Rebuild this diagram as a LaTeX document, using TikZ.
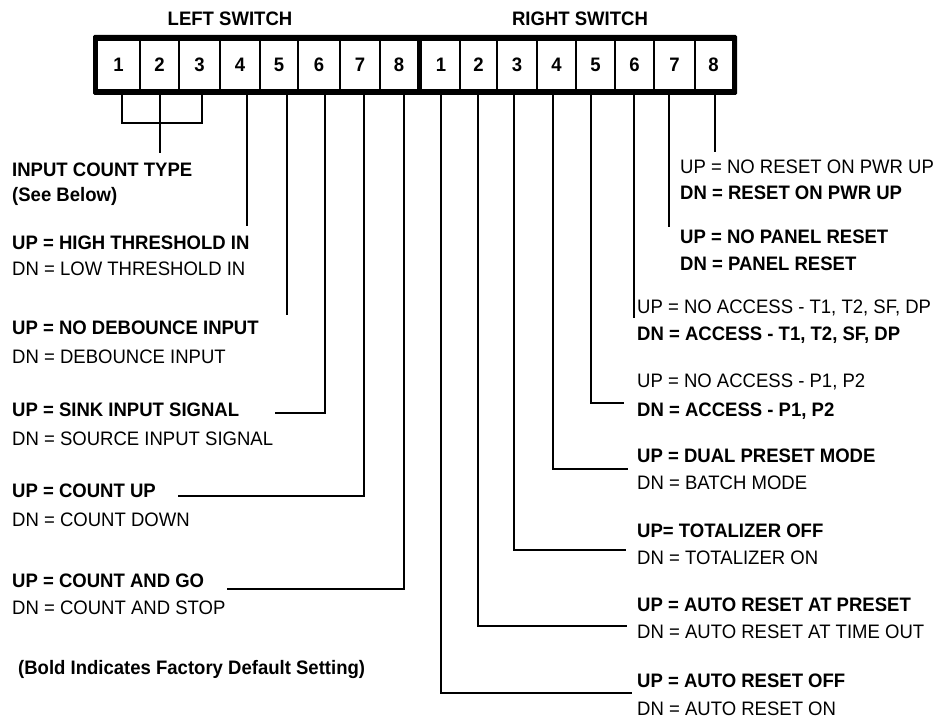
\documentclass[tikz,border=0pt]{standalone}
\usepackage{fontspec}
\setmainfont{Liberation Sans}[FakeStretch=0.95]
\newcommand\lblsize{\fontsize{19.5}{23}\selectfont}
\tikzset{
  rg/.style={anchor=base west, inner sep=0pt, font=\lblsize},
  bd/.style={anchor=base west, inner sep=0pt, font=\lblsize\bfseries},
  hdr/.style={anchor=base, inner sep=0pt, font=\lblsize\bfseries},
  num/.style={anchor=center, inner sep=0pt, font=\lblsize\bfseries},
  wire/.style={line width=1.4pt, line join=miter},
  divider/.style={line width=1.3pt}
}
\begin{document}
\begin{tikzpicture}[x=1pt,y=-1pt]
\useasboundingbox (0,0) rectangle (940,719);
\fill[white] (0,0) rectangle (940,719);

% headers
\node[hdr] (lsw) at (230,26) {LEFT SWITCH};
\node[hdr] (rsw) at (580,26) {RIGHT SWITCH};

% switch body
\fill[black, rounded corners=1.5pt] (93,35) rectangle (737,95);
\fill[white] (98,41) rectangle (417,89);
\fill[white] (422,41) rectangle (732,89);
\foreach \x in {140,179,220,260,298,340,380,460,497,537,576,615,654,695}
  \draw[divider] (\x,41) -- (\x,89);
\foreach \n/\x [count=\i] in {1/118.5,2/159.5,3/199.5,4/240,5/279,6/319,7/360,8/399,
  1/441,2/478.5,3/517,4/556.5,5/595.5,6/634.5,7/674.5,8/713.5}
  \node[num] (c\i) at (\x,65) {\n};

% left labels
\node[bd] (ict) at (12,177) {INPUT COUNT TYPE};
\node[bd] (seeb) at (12,202) {(See Below)};
\node[bd] (l4u) at (12,250) {UP = HIGH THRESHOLD IN};
\node[rg] (l4d) at (12,276) {DN = LOW THRESHOLD IN};
\node[bd] (l5u) at (12,335) {UP = NO DEBOUNCE INPUT};
\node[rg] (l5d) at (12,363) {DN = DEBOUNCE INPUT};
\node[bd] (l6u) at (12,416) {UP = SINK INPUT SIGNAL};
\node[rg] (l6d) at (12,445) {DN = SOURCE INPUT SIGNAL};
\node[bd] (l7u) at (12,497) {UP = COUNT UP};
\node[rg] (l7d) at (12,526) {DN = COUNT DOWN};
\node[bd] (l8u) at (12,587) {UP = COUNT AND GO};
\node[rg] (l8d) at (12,614) {DN = COUNT AND STOP};
\node[bd] (note) at (18,674) {(Bold Indicates Factory Default Setting)};

% right labels
\node[rg] (r8u) at (680,174) {UP = NO RESET ON PWR UP};
\node[bd] (r8d) at (680,200) {DN = RESET ON PWR UP};
\node[bd] (r7u) at (680,244) {UP = NO PANEL RESET};
\node[bd] (r7d) at (680,271) {DN = PANEL RESET};
\node[rg] (r6u) at (637,314) {UP = NO ACCESS - T1, T2, SF, DP};
\node[bd] (r6d) at (637,341) {DN = ACCESS - T1, T2, SF, DP};
\node[rg] (r5u) at (637,388) {UP = NO ACCESS - P1, P2};
\node[bd] (r5d) at (637,416) {DN = ACCESS - P1, P2};
\node[bd] (r4u) at (637,462) {UP = DUAL PRESET MODE};
\node[rg] (r4d) at (637,489) {DN = BATCH MODE};
\node[bd] (r3u) at (637,537) {UP= TOTALIZER OFF};
\node[rg] (r3d) at (637,564) {DN = TOTALIZER ON};
\node[bd] (r2u) at (637,611) {UP = AUTO RESET AT PRESET};
\node[rg] (r2d) at (637,638) {DN = AUTO RESET AT TIME OUT};
\node[bd] (r1u) at (637,687) {UP = AUTO RESET OFF};
\node[rg] (r1d) at (637,715) {DN = AUTO RESET ON};

% connector start points at the bottom of the switch body
\coordinate (t1a) at (122,95);
\coordinate (t2) at (160,95);
\coordinate (t3a) at (202,95);
\coordinate (t4) at (247,95);
\coordinate (t5) at (287,95);
\coordinate (t6) at (325,95);
\coordinate (t7) at (364,95);
\coordinate (t8) at (404,95);
\coordinate (u1) at (441,95);
\coordinate (u2) at (478,95);
\coordinate (u3) at (514,95);
\coordinate (u4) at (553,95);
\coordinate (u5) at (591,95);
\coordinate (u6) at (634,95);
\coordinate (u7) at (669,95);
\coordinate (u8) at (715,95);

% free ends
\coordinate (e2) at (160,153);
\coordinate (e4) at (247,226);
\coordinate (e5) at (287,315);
\coordinate (e6) at (275,413);
\coordinate (e7) at (178,496);
\coordinate (e8) at (227,589);
\coordinate (f8) at (715,152);
\coordinate (f7) at (669,227);
\coordinate (f6) at (634,318);
\coordinate (f5) at (624,403);
\coordinate (f4) at (628,469);
\coordinate (f3) at (626,550);
\coordinate (f2) at (627,626);
\coordinate (f1) at (632,693);

% left connectors
\draw[wire] (t1a) -- (122,123) -- (202,123) -- (t3a);
\draw[wire] (t2) -- (e2);
\draw[wire] (t4) -- (e4);
\draw[wire] (t5) -- (e5);
\draw[wire] (t6) |- (e6);
\draw[wire] (t7) |- (e7);
\draw[wire] (t8) |- (e8);

% right connectors
\draw[wire] (u8) -- (f8);
\draw[wire] (u7) -- (f7);
\draw[wire] (u6) -- (f6);
\draw[wire] (u5) |- (f5);
\draw[wire] (u4) |- (f4);
\draw[wire] (u3) |- (f3);
\draw[wire] (u2) |- (f2);
\draw[wire] (u1) |- (f1);
\end{tikzpicture}
\end{document}
